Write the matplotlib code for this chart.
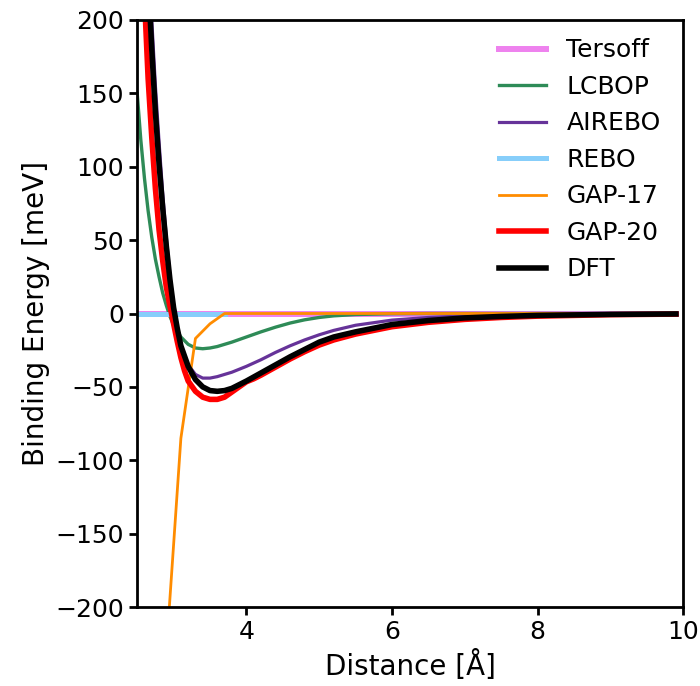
import numpy as np
import matplotlib
matplotlib.use('Agg')
import matplotlib.pyplot as plt

# Binding energy curves (meV vs Angstrom)
x_full = [2.5, 3.0, 3.5, 4.0, 5.0, 6.0, 7.0, 8.0, 9.0, 9.9]
tersoff = [0, 0, 0, 0, 0, 0, 0, 0, 0, 0]

x_rebo = [2.5, 3.0, 3.5, 3.7]
rebo = [0, 0, 0, 0]

x_lcbop = [2.5, 2.55, 2.6, 2.65, 2.7, 2.75, 2.8, 2.85, 2.9, 2.95, 3.0, 3.1,
           3.2, 3.3, 3.4, 3.5, 3.6, 3.8, 4.0, 4.2, 4.4, 4.6, 4.8, 5.0, 5.2,
           5.5, 6.0, 6.5, 7.0, 8.0, 9.0, 9.9]
lcbop = [150, 118, 92, 70, 52, 37, 25, 14, 5.5, -2, -8, -16,
         -21, -23.5, -24, -23.5, -22.5, -19.5, -16, -12.5, -9.3, -6.5, -4.3,
         -2.7, -1.6, -0.7, -0.15, 0, 0, 0, 0, 0]

x_airebo = [2.6, 2.65, 2.7, 2.75, 2.8, 2.85, 2.9, 2.95, 3.0, 3.05, 3.1, 3.2,
            3.3, 3.4, 3.5, 3.6, 3.8, 4.0, 4.2, 4.4, 4.6, 4.8, 5.0, 5.2, 5.5,
            6.0, 6.5, 7.0, 7.5, 8.0, 9.0, 9.9]
airebo = [300, 245, 200, 155, 117, 82, 52, 26, 5, -10, -22, -35,
          -41.5, -44, -44, -43, -40, -36, -31.5, -26.5, -22, -18, -14.5,
          -11.5, -8, -4.5, -2.7, -1.7, -1.1, -0.7, -0.3, -0.1]

x_gap17 = [2.9, 3.1, 3.3, 3.5, 3.7, 4.0, 5.0, 6.0, 7.0, 8.0, 9.0, 9.9]
gap17 = [-230, -85, -17, -7, 0, 0, 0, 0, 0, 0, 0, 0]

x_gap20 = [2.6, 2.65, 2.7, 2.75, 2.8, 2.85, 2.9, 2.95, 3.0, 3.05, 3.1, 3.15,
           3.2, 3.3, 3.4, 3.5, 3.6, 3.7, 3.8, 3.9, 4.0, 4.1, 4.2, 4.4, 4.6,
           4.8, 5.0, 5.2, 5.5, 6.0, 6.5, 7.0, 7.5, 8.0, 9.0, 9.9]
gap20 = [215, 160, 120, 85, 57, 36, 18, 5, -7, -19, -30, -39,
         -46, -53, -57, -58.5, -58.5, -57, -53.5, -50, -46.5, -44.5, -42,
         -36.5, -31, -26, -21.5, -18, -14, -9, -6, -4, -2.7, -1.8, -0.8, -0.4]

x_dft = [2.6, 2.65, 2.7, 2.75, 2.8, 2.85, 2.9, 2.95, 3.0, 3.05, 3.1, 3.2,
         3.3, 3.4, 3.5, 3.6, 3.7, 3.8, 4.0, 4.2, 4.4, 4.6, 4.8, 5.0, 5.2,
         5.5, 6.0, 6.5, 7.0, 7.5, 8.0, 9.0, 9.9]
dft = [290, 230, 180, 137, 102, 72, 46, 23, 4, -10, -22, -36,
       -45, -50, -52.5, -53, -52.5, -51, -46, -40.5, -35, -29.5, -24.5,
       -19.5, -16, -12.5, -7.5, -4.8, -3, -2, -1.3, -0.6, -0.3]

fig = plt.figure(figsize=(7, 6.86), dpi=100)
ax = fig.add_axes([0.196, 0.115, 0.78, 0.856])

ax.plot(x_full, tersoff, color='violet', lw=4.3, label='Tersoff')
ax.plot(x_lcbop, lcbop, color='seagreen', lw=2.4, label='LCBOP')
ax.plot(x_airebo, airebo, color='rebeccapurple', lw=2.3, label='AIREBO')
ax.plot(x_rebo, rebo, color='lightskyblue', lw=3.6, label='REBO')
ax.plot(x_gap17, gap17, color='darkorange', lw=2.0, label='GAP-17')
ax.plot(x_gap20, gap20, color='red', lw=4.0, label='GAP-20')
ax.plot(x_dft, dft, color='black', lw=4.0, label='DFT')

ax.set_xlim(2.5, 10)
ax.set_ylim(-200, 200)
ax.set_xticks([4, 6, 8, 10])
ax.set_yticks([-200, -150, -100, -50, 0, 50, 100, 150, 200])
ax.set_xlabel('Distance [Å]', fontsize=20)
ax.set_ylabel('Binding Energy [meV]', fontsize=20)
ax.tick_params(labelsize=18, width=2, length=6)
for s in ax.spines.values():
    s.set_linewidth(2)

ax.legend(loc='upper right', bbox_to_anchor=(1, 1.007), frameon=False,
          fontsize=18, handlelength=1.9)

fig.savefig('out.png', dpi=100)
